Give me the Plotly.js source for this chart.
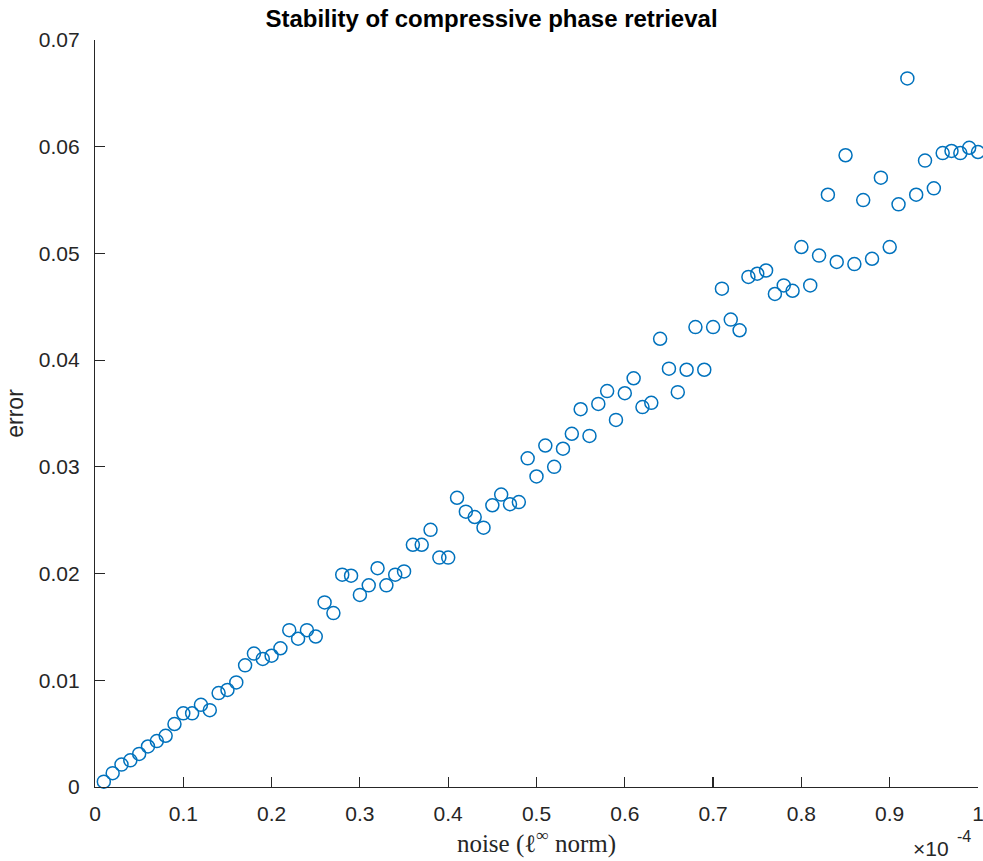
<!DOCTYPE html>
<html>
<head>
<meta charset="utf-8">
<script src="https://cdn.plot.ly/plotly-3.0.1.min.js"></script>
<style>html,body{margin:0;padding:0;background:#fff;}#chart{width:983px;height:861px;}</style>
</head>
<body>
<div id="chart"></div>
<script>
// noise level (x 1e-4)
const noise = [0.01,0.02,0.03,0.04,0.05,0.06,0.07,0.08,0.09,0.10,
  0.11,0.12,0.13,0.14,0.15,0.16,0.17,0.18,0.19,0.20,
  0.21,0.22,0.23,0.24,0.25,0.26,0.27,0.28,0.29,0.30,
  0.31,0.32,0.33,0.34,0.35,0.36,0.37,0.38,0.39,0.40,
  0.41,0.42,0.43,0.44,0.45,0.46,0.47,0.48,0.49,0.50,
  0.51,0.52,0.53,0.54,0.55,0.56,0.57,0.58,0.59,0.60,
  0.61,0.62,0.63,0.64,0.65,0.66,0.67,0.68,0.69,0.70,
  0.71,0.72,0.73,0.74,0.75,0.76,0.77,0.78,0.79,0.80,
  0.81,0.82,0.83,0.84,0.85,0.86,0.87,0.88,0.89,0.90,
  0.91,0.92,0.93,0.94,0.95,0.96,0.97,0.98,0.99,1.00];
// recovery error
const error = [0.0005,0.0013,0.0021,0.0025,0.0031,0.0038,0.0043,0.0048,0.0059,0.0069,
  0.0069,0.0077,0.0072,0.0088,0.0091,0.0098,0.0114,0.0125,0.0120,0.0123,
  0.0130,0.0147,0.0139,0.0147,0.0141,0.0173,0.0163,0.0199,0.0198,0.0180,
  0.0189,0.0205,0.0189,0.0199,0.0202,0.0227,0.0227,0.0241,0.0215,0.0215,
  0.0271,0.0258,0.0253,0.0243,0.0264,0.0274,0.0265,0.0267,0.0308,0.0291,
  0.0320,0.0300,0.0317,0.0331,0.0354,0.0329,0.0359,0.0371,0.0344,0.0369,
  0.0383,0.0356,0.0360,0.0420,0.0392,0.0370,0.0391,0.0431,0.0391,0.0431,
  0.0467,0.0438,0.0428,0.0478,0.0481,0.0484,0.0462,0.0470,0.0465,0.0506,
  0.0470,0.0498,0.0555,0.0492,0.0592,0.0490,0.0550,0.0495,0.0571,0.0506,
  0.0546,0.0664,0.0555,0.0587,0.0561,0.0594,0.0596,0.0594,0.0599,0.0595];
const xTicks = [0,0.1,0.2,0.3,0.4,0.5,0.6,0.7,0.8,0.9,1];
const xTickLabels = ['0','0.1','0.2','0.3','0.4','0.5','0.6','0.7','0.8','0.9','1'];
const yTicks = [0,0.01,0.02,0.03,0.04,0.05,0.06,0.07];
const yTickLabels = ['0','0.01','0.02','0.03','0.04','0.05','0.06','0.07'];

const axisColor = '#262626';
const trace = {
  x: noise, y: error, type: 'scatter', mode: 'markers', cliponaxis: false,
  marker: {symbol: 'circle-open', size: 13, color: '#0072BD', line: {width: 1.5, color: '#0072BD'}},
  hoverinfo: 'x+y'
};
const layout = {
  width: 983, height: 861,
  margin: {l: 95, r: 5, t: 40, b: 74},
  paper_bgcolor: '#fff', plot_bgcolor: '#fff',
  showlegend: false,
  font: {family: 'Liberation Sans, Arial, sans-serif', color: axisColor, size: 21},
  title: {text: '<b>Stability of compressive phase retrieval</b>', x: 0.5, xanchor: 'center', y: 0.978, yanchor: 'middle',
          font: {family: 'Liberation Sans, Arial, sans-serif', size: 24, color: '#000'}},
  xaxis: {
    range: [0, 1], tickvals: xTicks, ticktext: xTickLabels,
    showline: true, linecolor: axisColor, linewidth: 1.2, mirror: false,
    ticks: 'inside', ticklen: 10, tickwidth: 1.2, tickcolor: axisColor,
    showgrid: false, zeroline: false, ticklabeloverflow: 'allow', ticklabelstandoff: 8,
    tickfont: {size: 21, color: axisColor},
    title: {text: 'noise (ℓ<sup>∞</sup> norm)', standoff: 3, font: {family: 'Liberation Serif, DejaVu Serif, serif', size: 25, color: axisColor}}
  },
  yaxis: {
    range: [0, 0.07], tickvals: yTicks, ticktext: yTickLabels,
    showline: true, linecolor: axisColor, linewidth: 1.2, mirror: false,
    ticks: 'inside', ticklen: 10, tickwidth: 1.2, tickcolor: axisColor,
    showgrid: false, zeroline: false, ticklabelstandoff: 10,
    tickfont: {size: 21, color: axisColor},
    title: {text: 'error', standoff: 8, font: {size: 23, color: axisColor}}
  },
  annotations: [
    {text: '×10', xref: 'paper', yref: 'paper', x: 1, y: 0, xanchor: 'right', yanchor: 'middle',
     xshift: -27, yshift: -61, showarrow: false, font: {size: 21, color: axisColor}},
    {text: '-4', xref: 'paper', yref: 'paper', x: 1, y: 0, xanchor: 'right', yanchor: 'middle',
     xshift: -5, yshift: -49, showarrow: false, font: {size: 16, color: axisColor}}
  ]
};
Plotly.newPlot('chart', [trace], layout, {displayModeBar: false, staticPlot: true});
</script>
</body>
</html>
